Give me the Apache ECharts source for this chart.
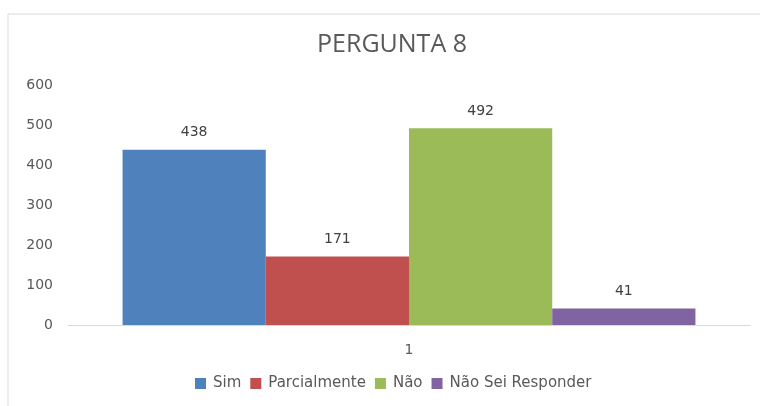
<!DOCTYPE html>
<html>
<head>
<meta charset="utf-8">
<script src="https://cdn.jsdelivr.net/npm/echarts@6/dist/echarts.min.js"></script>
<style>
  html, body { margin: 0; padding: 0; background: #fff; }
  #main { width: 760px; height: 406px; }
</style>
</head>
<body>
<div id="main"></div>
<script>
// data
const categories = ["1"]
const seriesNames = ["Sim", "Parcialmente", "Não", "Não Sei Responder"]
const seriesValues = [[438], [171], [492], [41]]
const colors = ["#4F81BD", "#C0504D", "#9BBB59", "#8064A2"]
const yTicks = { min: 0, max: 600, interval: 100 }

const labelFont = "DejaVu Sans"

const series = seriesNames.map((name, i) => ({
  name: name,
  type: "bar",
  data: seriesValues[i],
  barGap: "0%",
  barCategoryGap: "16%",
  itemStyle: { color: colors[i] },
  label: {
    show: true,
    position: "top",
    distance: 10,
    color: "#404040",
    fontFamily: labelFont,
    fontSize: 14
  }
}))

const options = {
  animation: false,
  backgroundColor: "#fff",
  graphic: [{
    type: "rect",
    shape: { x: 8, y: 14, width: 800, height: 420 },
    style: { fill: "none", stroke: "#d9d9d9", lineWidth: 1 },
    silent: true
  }],
  title: {
    text: "PERGUNTA 8",
    left: 387,
    textAlign: "center",
    top: 27,
    textStyle: {
      fontFamily: "Open Sans",
      fontWeight: "normal",
      fontSize: 25,
      color: "#595959"
    }
  },
  legend: {
    bottom: 10,
    left: 190,
    itemWidth: 11,
    itemHeight: 11,
    itemGap: 9,
    icon: "rect",
    textStyle: { fontFamily: labelFont, fontSize: 15, color: "#595959", padding: [0, 0, 0, 2] },
    data: seriesNames
  },
  grid: { left: 68, right: 10, top: 85, bottom: 81 },
  xAxis: {
    type: "category",
    data: categories,
    axisLine: { lineStyle: { color: "#d9d9d9", width: 1 } },
    axisTick: { show: false },
    axisLabel: { color: "#595959", fontFamily: labelFont, fontSize: 14, margin: 18 }
  },
  yAxis: {
    type: "value",
    min: yTicks.min,
    max: yTicks.max,
    interval: yTicks.interval,
    splitLine: { show: false },
    axisLine: { show: false },
    axisTick: { show: false },
    axisLabel: { color: "#595959", fontFamily: labelFont, fontSize: 14, margin: 15 }
  },
  series: series
}

const chartContainer = document.getElementById("main")
const myChart = echarts.init(chartContainer)
myChart.setOption(options)
window.onresize = () => myChart.resize()
</script>
</body>
</html>
